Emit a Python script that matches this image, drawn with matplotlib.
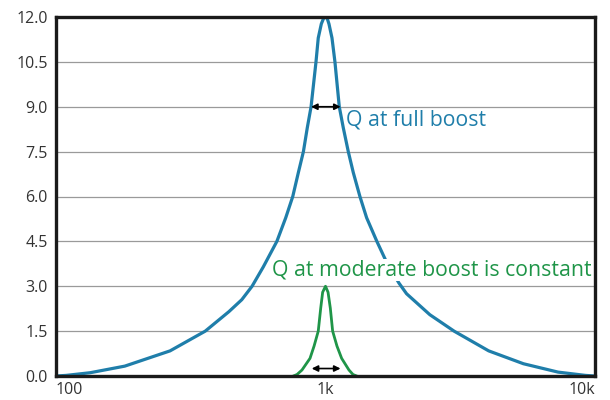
import numpy as np
import matplotlib.pyplot as plt

# Readings (frequency in Hz, boost in dB)
full_freq = [100, 109, 134, 180, 265, 358, 438, 489, 534, 588, 660, 712, 756, 793, 828, 856,
             884, 922, 940, 965, 983, 1000, 1015, 1030, 1057, 1084, 1125, 1164, 1215, 1268,
             1342, 1421, 1551, 1686, 1872, 1999, 2438, 3000, 4032, 5425, 7294, 9222, 10000]
full_gain = [0.0, 0.02, 0.11, 0.33, 0.84, 1.5, 2.15, 2.55, 3.0, 3.65, 4.5, 5.29, 6.0, 6.8, 7.5, 8.3,
             9.0, 10.5, 11.3, 11.77, 11.95, 12.0, 11.95, 11.77, 11.3, 10.5, 9.0, 8.3, 7.5, 6.8,
             6.0, 5.29, 4.5, 3.8, 3.11, 2.75, 2.05, 1.5, 0.84, 0.41, 0.13, 0.02, 0.0]

mod_freq = [760, 784, 818, 876, 907, 940, 960, 976, 1000, 1022, 1042, 1063, 1103, 1148,
            1222, 1265, 1305]
mod_gain = [0.0, 0.05, 0.2, 0.59, 1.0, 1.5, 2.27, 2.8, 3.0, 2.8, 2.27, 1.5, 1.0, 0.59,
            0.2, 0.05, 0.0]

y_ticks = [0.0, 1.5, 3.0, 4.5, 6.0, 7.5, 9.0, 10.5, 12.0]
x_ticks = [100, 1000, 10000]
x_labels = ['100', '1k', '10k']

blue = '#1f7eaa'
green = '#1f9548'

plt.rcParams['font.family'] = ['Open Sans', 'DejaVu Sans']

fig = plt.figure(figsize=(6.1, 4.0), dpi=100)
ax = fig.add_axes([0.0918, 0.06, 0.8836, 0.8975])

ax.plot(full_freq, full_gain, color=blue, lw=2.3, solid_joinstyle='round', zorder=3)
ax.plot(mod_freq, mod_gain, color=green, lw=2.0, solid_joinstyle='round', zorder=3)

ax.set_xscale('log')
ax.set_xlim(100, 10000)
ax.set_ylim(0, 12)

ax.set_yticks(y_ticks)
ax.set_yticklabels([f'{v:.1f}' for v in y_ticks])
ax.set_xticks(x_ticks)
ax.set_xticklabels(x_labels)
ax.minorticks_off()
labels = ax.get_xticklabels()
labels[0].set_ha('left')
labels[2].set_ha('right')

ax.tick_params(axis='both', length=0, labelsize=11.5, colors='#333333')
ax.tick_params(axis='y', pad=6)
ax.tick_params(axis='x', pad=4)

ax.yaxis.grid(True, color='#9a9a9a', lw=0.9)
ax.set_axisbelow(True)
for s in ax.spines.values():
    s.set_linewidth(2.4)
    s.set_color('#1a1a1a')
    s.set_zorder(4)

# width arrows
ax.annotate('', xy=(884, 9.0), xytext=(1138, 9.0),
            arrowprops=dict(arrowstyle='<|-|>', color='black', lw=1.2,
                            mutation_scale=9, shrinkA=0, shrinkB=0), zorder=5)
ax.annotate('', xy=(889, 0.25), xytext=(1137, 0.25),
            arrowprops=dict(arrowstyle='<|-|>', color='black', lw=1.2,
                            mutation_scale=9, shrinkA=0, shrinkB=0), zorder=5)

ax.text(1190, 8.55, 'Q at full boost', color=blue, fontsize=15.3,
        va='center', ha='left', zorder=6)
ax.text(634, 3.55, 'Q at moderate boost is constant', color=green, fontsize=15.3,
        va='center', ha='left', zorder=6,
        bbox=dict(boxstyle='square,pad=0.02', fc='white', ec='none'))

fig.savefig('out.png', dpi=100)
